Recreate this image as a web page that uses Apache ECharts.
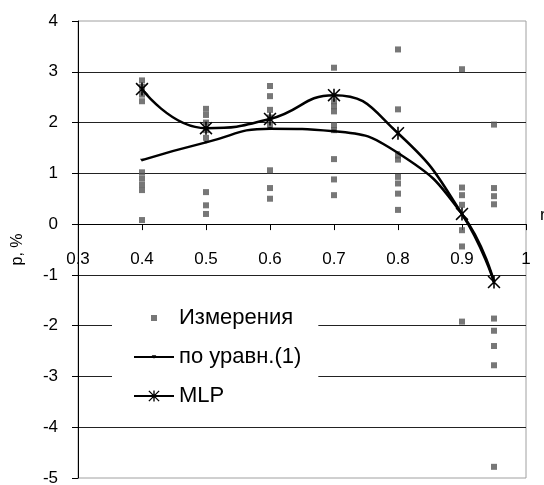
<!DOCTYPE html>
<html><head><meta charset="utf-8">
<script src="https://cdn.jsdelivr.net/npm/echarts@6/dist/echarts.min.js"></script>
<style>html,body{margin:0;padding:0;background:#fff}#c{width:544px;height:485px}</style>
</head><body><div id="c"></div>
<script>
// x positions of the measurement columns / model points
const xValues = [0.4, 0.5, 0.6, 0.7, 0.8, 0.9, 0.95];
// measured points (Измерения), one list per x value
const measurements = [
  [2.83, 2.7, 2.55, 2.42, 1.02, 0.9, 0.78, 0.67, 0.08],
  [2.27, 2.15, 2.0, 1.85, 1.7, 0.63, 0.37, 0.2],
  [2.72, 2.52, 2.25, 2.1, 1.95, 1.06, 0.71, 0.5],
  [3.08, 2.42, 2.32, 2.22, 1.95, 1.85, 1.28, 0.88, 0.57],
  [3.44, 2.26, 1.35, 1.27, 0.93, 0.8, 0.6, 0.28],
  [3.05, 0.72, 0.57, 0.38, -0.12, -0.44, -1.92],
  [1.96, 0.71, 0.55, 0.39, -1.86, -2.1, -2.4, -2.78, -4.78]
];
// по уравн.(1)
const eqValues = [1.26, 1.61, 1.88, 1.83, 1.4, 0.2, -1.14];
// MLP
const mlpValues = [2.66, 1.89, 2.07, 2.54, 1.79, 0.2, -1.14];
const seriesNames = ['Измерения', 'по уравн.(1)', 'MLP'];
const yAxisTitle = 'р, %';
const xAxisTitle = 'r';

const FONT = '"Liberation Sans", Arial, sans-serif';
const scatterData = [];
xValues.forEach((x, i) => measurements[i].forEach(y => scatterData.push([x, y])));
const eqData = xValues.map((x, i) => [x, eqValues[i]]);
const mlpData = xValues.map((x, i) => [x, mlpValues[i]]);

const starPath = 'path://M4.4,0h1.2v10h-1.2z M0,0.85L0.85,0L10,9.15L9.15,10Z M9.15,0L10,0.85L0.85,10L0,9.15Z';
const tinyTri = 'path://M0,0M10,10M3,3.5h4l-2,3z';

const GRID = {left: 78, right: 18, top: 21, bottom: 7};
const chart = echarts.init(document.getElementById('c'), null, {renderer: 'canvas'});
chart.setOption({
  animation: false,
  backgroundColor: '#fff',
  textStyle: {fontFamily: FONT},
  grid: Object.assign({show: true, borderColor: '#a0a0a0', borderWidth: 1, backgroundColor: 'transparent',
    containLabel: false, outerBoundsMode: 'none'}, GRID),
  legend: {
    orient: 'vertical', left: 112, top: 298,
    padding: [9, 17, 9, 21], backgroundColor: '#fff',
    itemWidth: 40, itemHeight: 14, itemGap: 17, itemTextGap: 6,
    textStyle: {fontSize: 22, color: '#000', fontFamily: FONT},
    selectedMode: false,
    data: [
      {name: seriesNames[0], icon: 'path://M0,0M40,14M17,4h6v6h-6z'},
      {name: seriesNames[1]},
      {name: seriesNames[2]}
    ]
  },
  xAxis: {
    type: 'value', min: 0.3, max: 1, interval: 0.1, position: 'bottom', offset: 0,
    axisLine: {show: true, onZero: false, lineStyle: {color: '#000', width: 1}},
    axisTick: {show: true, length: 6, lineStyle: {color: '#000'}},
    axisLabel: {fontSize: 17, color: '#000', margin: 27, fontFamily: FONT},
    splitLine: {show: false},
    name: xAxisTitle, nameLocation: 'end', nameGap: 14,
    nameTextStyle: {fontSize: 17, color: '#000', verticalAlign: 'bottom', align: 'left', fontFamily: FONT}
  },
  yAxis: {
    type: 'value', min: -5, max: 4, interval: 1,
    axisLine: {show: true, onZero: false, lineStyle: {color: '#000', width: 1}},
    axisTick: {show: true, length: 6, lineStyle: {color: '#000'}},
    axisLabel: {fontSize: 17, color: '#000', margin: 20, fontFamily: FONT},
    splitLine: {show: true, showMinLine: false, showMaxLine: false, lineStyle: {color: '#222', width: 1}},
    name: yAxisTitle, nameLocation: 'middle', nameGap: 52, nameRotate: 90,
    nameTextStyle: {fontSize: 16, color: '#000', fontFamily: FONT}
  },
  series: [
    {
      name: seriesNames[0], type: 'scatter', data: scatterData,
      symbol: 'rect', symbolSize: 6,
      itemStyle: {color: '#555'}, z: 2
    },
    {
      name: seriesNames[1], type: 'line', data: eqData, smooth: 0.5,
      symbol: tinyTri, symbolSize: 10, showSymbol: true,
      itemStyle: {color: '#000'}, lineStyle: {color: '#000', width: 2.5}, z: 3
    },
    {
      name: seriesNames[2], type: 'line', data: mlpData, smooth: 0.5,
      symbol: starPath, symbolSize: 13, showSymbol: true,
      itemStyle: {color: '#000'}, lineStyle: {color: '#000', width: 2.5}, z: 4
    }
  ]
});
// place the x axis where y = 0 (axis crosses at zero, as in the original)
const zeroPx = chart.convertToPixel({yAxisIndex: 0}, 0);
const bottomPx = chart.getHeight() - GRID.bottom;
chart.setOption({xAxis: {offset: zeroPx - bottomPx}});
</script>
</body></html>
